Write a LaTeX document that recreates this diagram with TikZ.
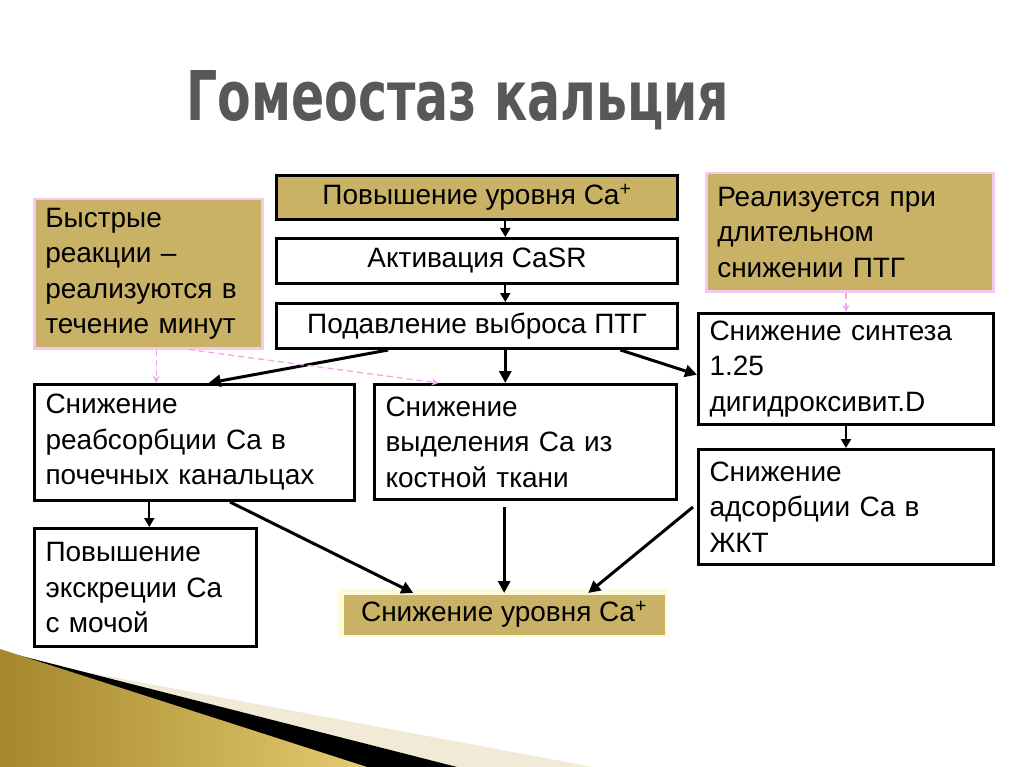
\documentclass[tikz,border=0pt]{standalone}
\usepackage{fontspec}
\setmainfont{Liberation Sans}
\newfontfamily\titlefont{DejaVu Sans}
\usetikzlibrary{calc,arrows.meta}
\definecolor{boxgold}{RGB}{201,178,102}
\definecolor{pinkb}{RGB}{245,200,240}
\definecolor{pinkd}{RGB}{238,170,232}
\definecolor{titlegray}{RGB}{88,88,88}
\definecolor{goldL}{RGB}{165,135,45}
\definecolor{goldR}{RGB}{228,202,112}
\definecolor{cream}{RGB}{240,234,214}
\definecolor{glow}{RGB}{255,250,220}
\tikzset{
  bx/.style={draw=black, line width=3pt, fill=white, anchor=north west,
    inner xsep=11pt, inner ysep=0pt, align=left,
    font=\fontsize{28}{35.5}\selectfont},
  bxc/.style={bx, align=center, minimum width=401pt},
  pinkbx/.style={bx, draw=pinkb, fill=boxgold, line width=2.5pt},
  arr/.style={draw=black, line width=3pt, -{Triangle[length=12pt,width=12pt]}},
  sarr/.style={draw=black, line width=2pt, -{Triangle[length=9pt,width=10pt]}},
  darr/.style={draw=pinkd, line width=1.3pt, dash pattern=on 6pt off 4pt, -{Stealth[length=7pt,width=7pt]}},
}
\begin{document}
\begin{tikzpicture}[x=1pt,y=-1pt]
\useasboundingbox (0,0) rectangle (1024,767);
\fill[white] (0,0) rectangle (1024,767);

% bottom-left decoration
\fill[cream] (0,767) -- (0,656) -- (593,767) -- cycle;
\fill[black] (0,767) -- (0,650.5) -- (457,767) -- cycle;
\shade[left color=goldL, right color=goldR] (0,767) -- (0,649) -- (367,767) -- cycle;

% title
\node[anchor=base west, text=titlegray, inner sep=0] (title) at (186,121)
  {\resizebox{543pt}{50pt}{\titlefont\bfseries Гомеостаз кальция}};

% top chain
\node[bxc, fill=boxgold, minimum height=44pt] (top1) at (275,174) {Повышение уровня Ca\textsuperscript{+}};
\node[bxc, minimum height=45pt] (top2) at (275,237) {Активация CaSR};
\node[bxc, minimum height=45pt] (pod) at (275,302) {Подавление выброса ПТГ};

% side notes
\node[pinkbx, text width=206pt, minimum height=149pt] (lp) at (33,198)
  {Быстрые\\реакции –\\реализуются в\\течение минут};
\node[pinkbx, text width=265pt, minimum height=118pt] (rp) at (705,172)
  {Реализуется при\\длительном\\снижении ПТГ};

% effect boxes
\node[bx, text width=298pt, minimum height=116pt] (left) at (33,383)
  {Снижение\\реабсорбции Ca в\\почечных канальцах};
\node[bx, text width=280pt, minimum height=115pt] (mid) at (373,383)
  {Снижение\\выделения Ca из\\костной ткани};
\node[bx, text width=273pt, minimum height=111pt] (r1) at (697,312)
  {Снижение синтеза\\1.25\\дигидроксивит.D};
\node[bx, text width=273pt, minimum height=115pt] (r2) at (697,448)
  {Снижение\\адсорбции Ca в\\ЖКТ};
\node[bx, text width=200pt, minimum height=118pt] (lb) at (33,527)
  {Повышение\\экскреции Ca\\с мочой};

% result
\fill[glow] (338,589) rectangle (667,637);
\node[bx, draw=none, fill=boxgold, align=center, minimum width=321pt, minimum height=40pt] (res) at (342,593)
  {Снижение уровня Ca\textsuperscript{+}};

% connectors
\coordinate (a1) at ($(top1.south west)!0.57!(top1.south east)$);
\draw[sarr] (a1) -- (a1 |- top2.north);
\coordinate (a2) at ($(top2.south west)!0.57!(top2.south east)$);
\draw[sarr] (a2) -- (a2 |- pod.north);

\draw[arr] ($(pod.south west)!0.28!(pod.south east)$) -- ($(left.north west)!0.544!(left.north east)$);
\coordinate (a3) at ($(pod.south west)!0.57!(pod.south east)$);
\draw[arr] (a3) -- (a3 |- mid.north);
\draw[arr] ($(pod.south west)!0.855!(pod.south east)$) -- ($(r1.north west)!0.55!(r1.south west)$);

\coordinate (a4) at ($(left.south west)!0.36!(left.south east)$);
\draw[sarr] (a4) -- (a4 |- lb.north);
\draw[arr] ($(left.south west)!0.61!(left.south east)$) -- ($(res.north west)!0.22!(res.north east)$);
\coordinate (a5) at ($(mid.south west)!0.43!(mid.south east)$);
\draw[arr] ([yshift=-6pt]a5) -- (a5 |- res.north);
\draw[arr] ([xshift=-4pt]r2.west) -- ($(res.north west)!0.76!(res.north east)$);
\draw[sarr] (r1.south) -- (r2.north);

% dashed pink
\coordinate (d1) at ($(lp.south west)!0.535!(lp.south east)$);
\draw[darr] (d1) -- (d1 |- left.north);
\draw[darr] ($(lp.south west)!0.675!(lp.south east)$) -- ($(mid.north west)!0.215!(mid.north east)$);
\draw[darr] (r1.north |- rp.south) -- (r1.north);
\end{tikzpicture}
\end{document}
